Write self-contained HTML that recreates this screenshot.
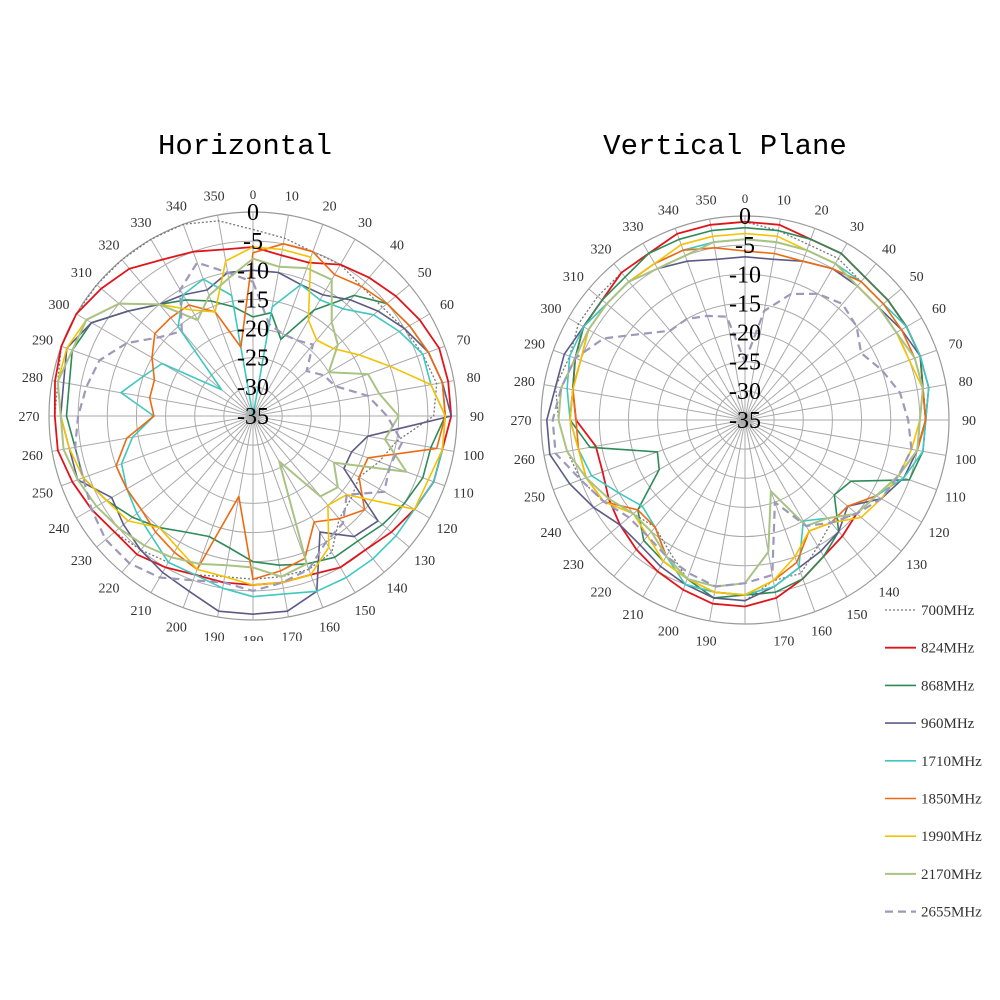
<!DOCTYPE html>
<html><head><meta charset="utf-8">
<style>
html,body{margin:0;padding:0;background:#fff;}
svg{display:block;}
text{font-family:"Liberation Serif",serif;}
</style></head>
<body>
<svg id="s" width="1000" height="1000" xmlns="http://www.w3.org/2000/svg">
<rect width="1000" height="1000" fill="#fff"/>
<text x="245" y="154" font-size="29" font-family="Liberation Mono, monospace" text-anchor="middle" style="font-family:'Liberation Mono',monospace">Horizontal</text>
<text x="725" y="154" font-size="29" text-anchor="middle" style="font-family:'Liberation Mono',monospace">Vertical Plane</text>
</svg>
<script>
const NS="http://www.w3.org/2000/svg",S=document.getElementById('s');
function el(t,a,p){const e=document.createElementNS(NS,t);for(const k in a)e.setAttribute(k,a[k]);(p||S).appendChild(e);return e;}
const R=204;
const cols={c700:['#777',1.3,'2,2'],c824:['#e0151b',1.8,''],c868:['#2e8b57',1.6,''],c960:['#5b5b86',1.6,''],c1710:['#3ec8c0',1.6,''],c1850:['#ee6a12',1.6,''],c1990:['#f5c200',1.6,''],c2170:['#a9c383',2,''],c2655:['#9c99ba',2.2,'8,5']};
function chart(cx,cy,data,show180){
  const g=el('g',{});
  for(let i=1;i<=7;i++)el('circle',{cx,cy,r:R*i/7,fill:'none',stroke:i==7?'#999':'#aaa','stroke-width':i==7?1.2:1},g);
  for(let a=0;a<360;a+=10){const t=a*Math.PI/180;
    el('line',{x1:cx,y1:cy,x2:cx+R*Math.sin(t),y2:cy-R*Math.cos(t),stroke:'#aaa','stroke-width':1},g);
    if(a==180&&!show180)continue;
    const rr=a==0?222:224;
    const tx=el('text',{x:cx+rr*Math.sin(t),y:cy-rr*Math.cos(t)+5,'font-size':a==0?13:14,'text-anchor':'middle',fill:'#333'},g);tx.textContent=a;}
  for(const k in data){const c=cols[k];let d='';
    data[k].forEach((v,i)=>{const r=(v+35)/35*R,t=i*10*Math.PI/180;d+=(i?'L':'M')+(cx+r*Math.sin(t)).toFixed(1)+','+(cy-r*Math.cos(t)).toFixed(1);});
    el('path',{d:d+'Z',fill:'none',stroke:c[0],'stroke-width':c[1],'stroke-dasharray':c[2],'stroke-linejoin':'round'},g);}
  for(let i=0;i<8;i++){const t=el('text',{x:cx,y:cy-R+i*R/7+8,'font-size':24,'text-anchor':'middle',fill:'#000'},g);t.textContent=i?'-'+i*5:'0';}
}
const H={
c700:[-3,-4,-5,-5,-6,-6,-5,-4,-3,-4,-10,-12,-14,-13,-12,-8,-7,-7,-7,-7,-6,-6,-5,-4,-3,-2,-1,-1,-1,0,0,0,0,0,0,-1],
c824:[-6,-7,-7,-5,-4,-3,-2,-1,-1,-1,-2,-2,-3,-4,-5,-5,-6,-6,-6,-6,-6,-5,-4,-4,-3,-2,-1,-1,-0.5,0,0,-1,-2,-4,-5,-6],
c868:[-18,-17,-21,-14,-8,-5,-4,-3,-2,-2,-4,-4,-5,-6,-7,-7,-8,-9,-10,-12,-13,-12,-10,-8,-6,-4,-4,-3,-3,-2,-3,-7,-10,-12,-14,-16],
c960:[-10,-10,-11,-11,-9,-7,-5,-3,-2,-1,-15,-17,-17,-7,-8,-12,-3,-1,-1,-1,-3,-4,-5,-6,-7,-3,-3,-2,-2,-1,-3,-7,-10,-11,-12,-10],
c1710:[-35,-16,-11,-12,-11,-8,-6,-4,-4,-2,-2,-2,-3,-3,-3,-3,-3,-4,-4,-5,-6,-6,-8,-9,-10,-11,-14,-18,-12,-15,-17,-28,-15,-11,-10,-14],
c1850:[-7,-5,-5,-7,-6,-5,-4,-3,-2,-2,-3,-14,-14,-10,-12,-14,-9,-8,-7,-21,-7,-8,-9,-10,-10,-10,-13,-18,-17,-17,-15,-13,-13,-13,-16,-23],
c1990:[-6,-6,-6,-16,-18,-17,-14,-10,-4,-2,-2,-3,-3,-14,-15,-9,-6,-6,-6,-7,-7,-9,-10,-7,-6,-4,-3,-2,-1,-1,-2,-5,-10,-14,-16,-8],
c2170:[-8,-9,-8,-8,-14,-16,-20,-14,-13,-10,-12,-7,-19,-16,-17,-26,-8,-7,-9,-9,-8,-7,-6,-5,-4,-3,-2,-2,-1,-2,-2,-5,-10,-16,-13,-11],
c2655:[-12,-19,-20,-20,-19,-23,-21,-20,-15,-12,-9,-10,-9,-14,-11,-10,-7,-6,-5,-6,-5,-3,-2,-2,-3,-4,-4,-5,-6,-7,-10,-14,-16,-10,-7,-10]};
const V={
c700:[-1,-2,-3,-3,-4,-4,-3,-3,-4,-4,-5,-7,-9,-10,-12,-10,-7,-7,-4,-4,-6,-9,-11,-10,-7,-5,-4,-3,-2,-3,-2,-2,-2,-2,-1,-1],
c824:[-1,-1,-2,-2,-3,-3,-3,-3,-4,-4,-5,-7,-9,-10,-9,-8,-6,-4,-3,-3,-4,-5,-6,-7,-8,-9,-9,-6,-5,-4,-3,-3,-2,-2,-1,-1],
c868:[-2,-2,-2,-2,-3,-3,-3,-3,-4,-4,-4,-5,-14,-15,-10,-8,-6,-5,-5,-4,-6,-7,-8,-11,-18,-19,-8,-5,-5,-4,-3,-3,-3,-2,-2,-2],
c960:[-7,-7,-6,-5,-5,-5,-4,-3,-3,-4,-5,-6,-8,-12,-10,-9,-8,-6,-4,-4,-5,-6,-7,-7,-5,-3,-1,-1,-2,-2,-3,-4,-4,-5,-6,-7],
c1710:[-4,-4,-4,-4,-4,-4,-3,-3,-3,-4,-4,-6,-9,-10,-13,-15,-8,-6,-5,-5,-5,-8,-11,-12,-10,-7,-6,-5,-4,-3,-3,-4,-4,-4,-4,-4],
c1850:[-6,-6,-6,-5,-4,-4,-4,-4,-4,-4,-5,-7,-9,-12,-12,-13,-9,-7,-5,-5,-6,-8,-11,-11,-7,-6,-6,-6,-5,-5,-4,-4,-4,-4,-4,-5],
c1990:[-3,-3,-4,-4,-5,-5,-5,-5,-4,-5,-6,-7,-8,-9,-12,-13,-10,-7,-5,-5,-6,-7,-9,-10,-7,-6,-6,-5,-5,-5,-4,-4,-4,-4,-3,-3],
c2170:[-4,-4,-4,-4,-5,-5,-5,-4,-4,-5,-5,-7,-9,-10,-13,-14,-22,-12,-7,-6,-6,-8,-10,-10,-8,-6,-4,-3,-3,-4,-4,-4,-4,-5,-5,-4],
c2655:[-25,-16,-12,-10,-9,-10,-12,-10,-8,-7,-6,-7,-8,-10,-12,-14,-20,-8,-7,-6,-7,-8,-9,-9,-7,-5,-2,-2,-3,-4,-7,-12,-15,-15,-16,-17]};
chart(253,416,H,true);
chart(745,420,V,false);
el('rect',{x:0,y:641,width:520,height:359,fill:'#fff'});
const L=[['700MHz','c700'],['824MHz','c824'],['868MHz','c868'],['960MHz','c960'],['1710MHz','c1710'],['1850MHz','c1850'],['1990MHz','c1990'],['2170MHz','c2170'],['2655MHz','c2655']];
L.forEach((l,i)=>{const y=610+i*37.7,c=cols[l[1]];
  el('line',{x1:885,y1:y,x2:916,y2:y,stroke:c[0],'stroke-width':c[1],'stroke-dasharray':c[2]});
  const t=el('text',{x:921,y:y+5,'font-size':15,fill:'#333'});t.textContent=l[0];});
</script>
</body></html>
